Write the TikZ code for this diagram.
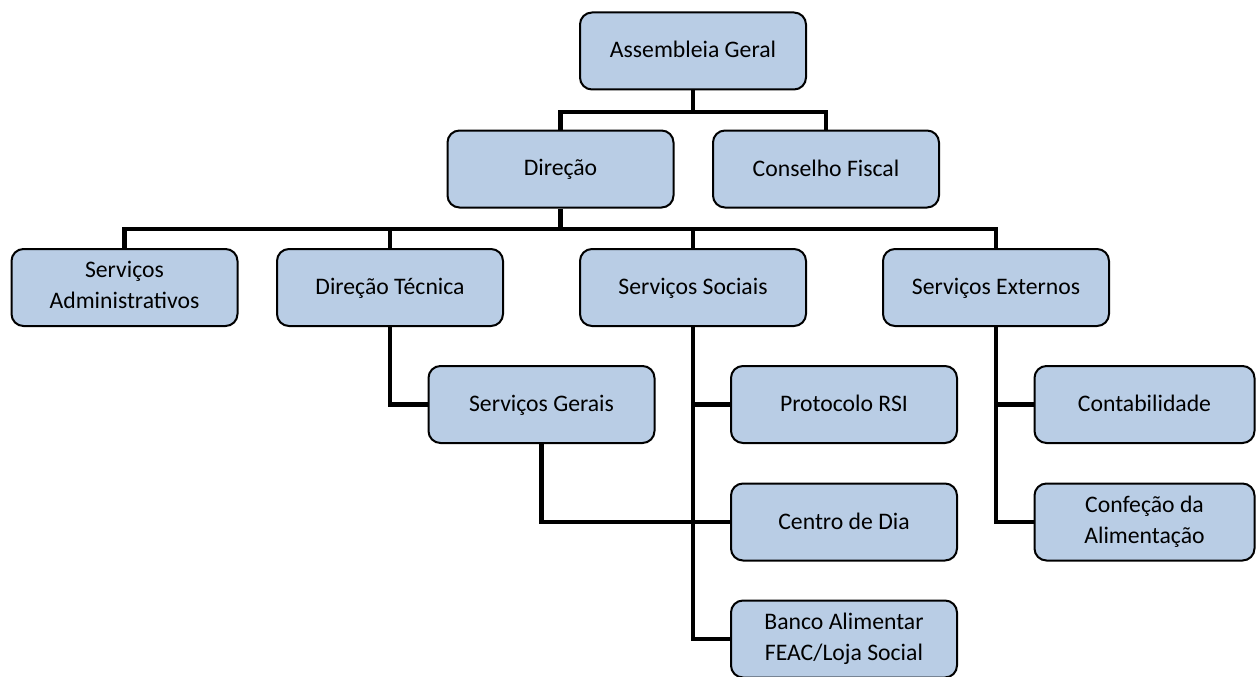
\documentclass[tikz,border=0pt]{standalone}
\usepackage{fontspec}
\setmainfont{Carlito}
\usetikzlibrary{backgrounds}
\definecolor{boxfill}{HTML}{B9CDE5}
\newcommand\tstrut{\rule[-3pt]{0pt}{20pt}}
\newcommand\firstln{\rule[-3pt]{0pt}{20pt}}
\newcommand\lastln{\rule[-6pt]{0pt}{23pt}}
\tikzset{
  orgbox/.style={draw=black, line width=2pt, fill=boxfill, rounded corners=12pt,
    minimum width=226pt, minimum height=77pt, align=center, inner sep=2pt,
    font=\fontsize{23.7}{31}\selectfont},
  onebox/.style={orgbox, execute at begin node=\tstrut},
  narrowbox/.style={minimum width=220pt}
}
\tikzset{link/.style={draw=black, line width=4.8pt}}
\begin{document}
\begin{tikzpicture}[x=1pt, y=-1pt]
\useasboundingbox (0,0) rectangle (1256,677);
\node[onebox] (ag) at (693,51) {Assembleia Geral};
\node[onebox] (dir) at (560.5,169) {Direção};
\node[onebox] (cf) at (826,169) {Conselho Fiscal};
\node[orgbox] (sa) at (124.5,287.5) {\firstln Serviços\\\lastln Administrativos};
\node[onebox] (dt) at (390,287.5) {Direção Técnica};
\node[onebox] (ss) at (693,287.5) {Serviços Sociais};
\node[onebox] (se) at (996,287.5) {Serviços Externos};
\node[onebox] (sg) at (541.5,404.5) {Serviços Gerais};
\node[onebox] (pr) at (844,404.5) {Protocolo RSI};
\node[onebox] (cd) at (844,522) {Centro de Dia};
\node[orgbox] (ba) at (844,639) {\firstln Banco Alimentar\\\lastln FEAC/Loja Social};
\node[onebox, narrowbox] (co) at (1144.5,404.5) {Contabilidade};
\node[orgbox, narrowbox] (ca) at (1144.5,522) {\firstln Confeção da\\\lastln Alimentação};
\coordinate (j1) at (693,112);
\coordinate (j2) at (560.5,229);
\begin{scope}[on background layer]
  \draw[link] (ag.south) -- (j1);
  \draw[link] (j1) -| (dir.north);
  \draw[link] (j1) -| (cf.north);
  \draw[link] (dir.south) -- (j2);
  \draw[link] (j2) -| (sa.north);
  \draw[link] (j2) -| (dt.north);
  \draw[link] (j2) -| (ss.north);
  \draw[link] (j2) -| (se.north);
  \draw[link] (dt.south) |- (sg.west);
  \draw[link] (ss.south) |- (ba.west);
  \draw[link] (ss.south |- pr.west) -- (pr.west);
  \draw[link] (sg.south) |- (cd.west);
  \draw[link] (se.south) |- (ca.west);
  \draw[link] (se.south |- co.west) -- (co.west);
\end{scope}
\end{tikzpicture}
\end{document}
